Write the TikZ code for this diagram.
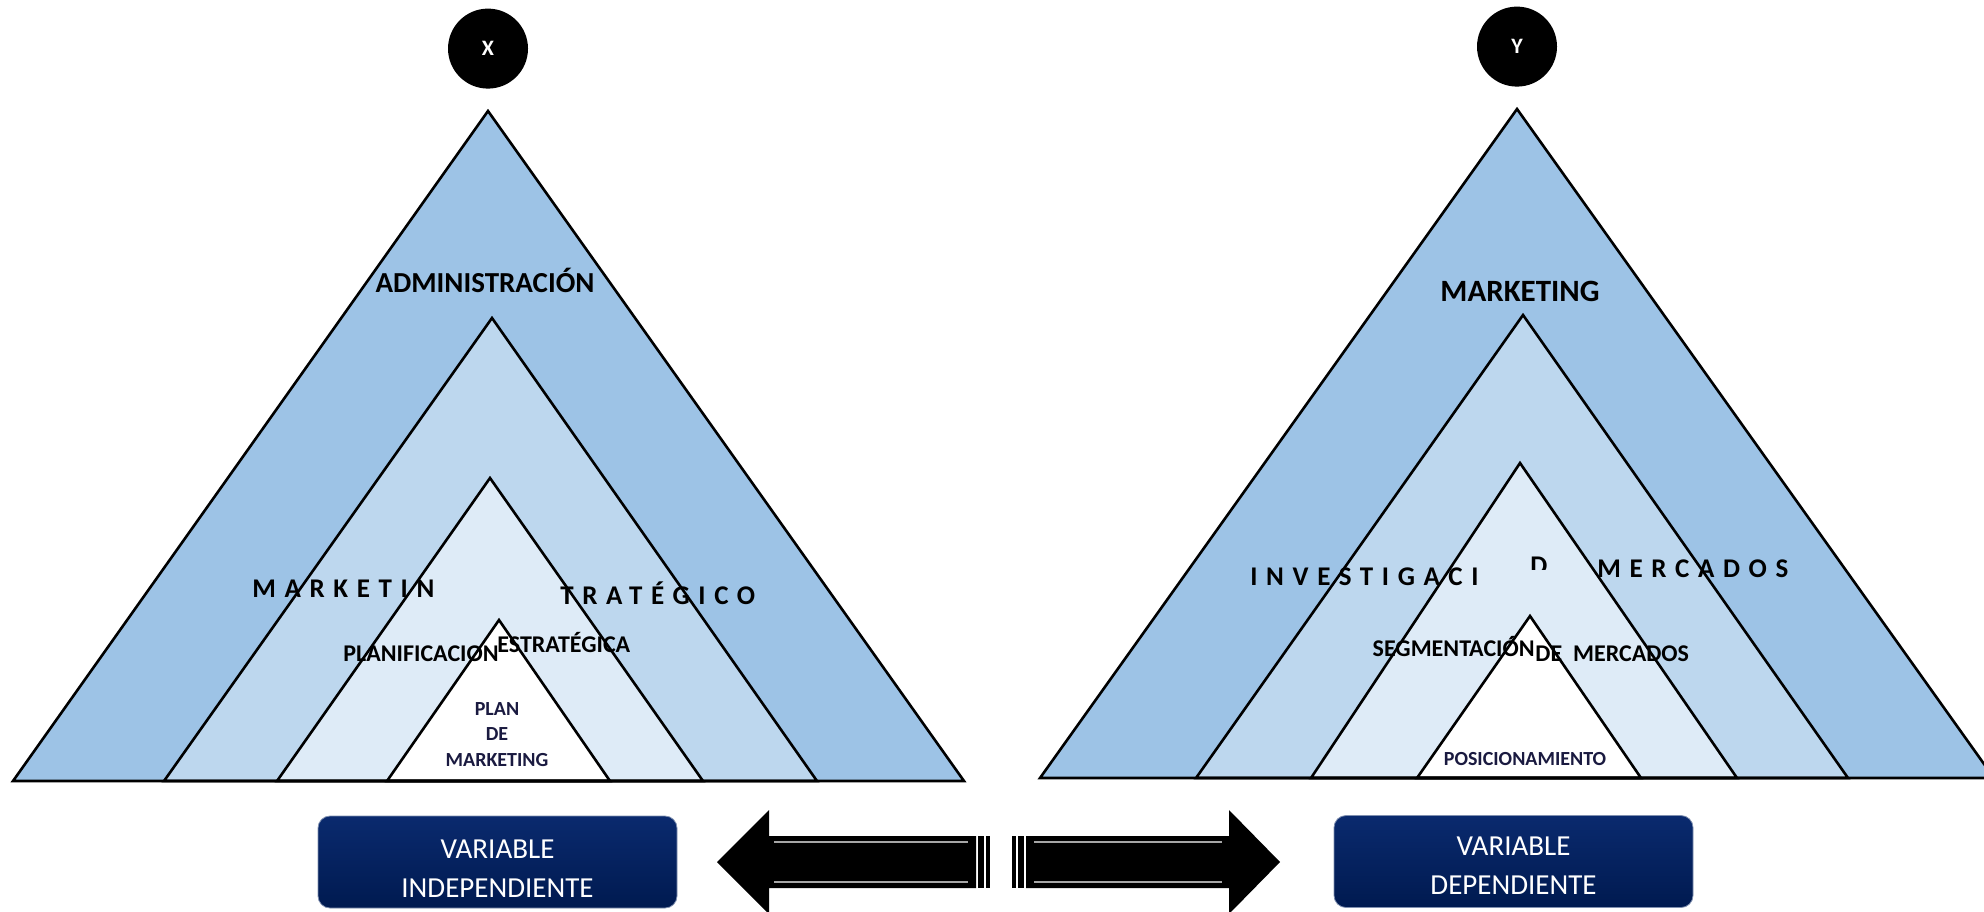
\documentclass[tikz,border=0pt]{standalone}
\usepackage{fontspec}
\setmainfont{Carlito}
\usepackage{tikz}
\usetikzlibrary{positioning}
\definecolor{nivelA}{HTML}{9DC3E6}
\definecolor{nivelB}{HTML}{BDD7EE}
\definecolor{nivelC}{HTML}{DEEBF7}
\definecolor{core}{HTML}{1A1A40}
\definecolor{boxtop}{HTML}{0A2A6E}
\definecolor{boxbot}{HTML}{001A50}
\definecolor{boxedge}{HTML}{8090B0}

\begin{document}
\begin{tikzpicture}[x=0.5pt,y=-0.5pt,
  edge/.style={draw=black,line width=1.3pt,line join=miter},
  badge/.style={circle,fill=black,text=white,font=\bfseries\fontsize{11}{13}\selectfont,minimum size=40pt,inner sep=0pt},
  head/.style={font=\bfseries\fontsize{14.5}{17}\selectfont,inner sep=0pt,anchor=base},
  spaced/.style={font=\bfseries\fontsize{13.5}{16}\selectfont\addfontfeature{LetterSpace=32},inner sep=0pt,anchor=base west},
  inner/.style={font=\bfseries\fontsize{12}{14}\selectfont,inner sep=0pt},
  core/.style={font=\bfseries\fontsize{10}{12.7}\selectfont,text=core,inner sep=0pt,align=center},
  varbox/.style={rounded corners=6pt,top color=boxtop,bottom color=boxbot,draw=boxedge,line width=0.4pt,minimum width=179.5pt,minimum height=46pt},
  vartext/.style={text=white,font=\fontsize{14.5}{19.5}\selectfont,align=center,inner sep=0pt},
  glint/.style={draw=gray!70,line width=1pt}]
\useasboundingbox (0,0) rectangle (1984,911);

\coordinate (L1-t) at (488,111); \coordinate (L1-l) at (13,781);   \coordinate (L1-r) at (964,781);
\coordinate (L2-t) at (492,318); \coordinate (L2-l) at (164,781);  \coordinate (L2-r) at (817,781);
\coordinate (L3-t) at (490,478); \coordinate (L3-l) at (277,781);  \coordinate (L3-r) at (703,781);
\coordinate (L4-t) at (499,620); \coordinate (L4-l) at (387,781);  \coordinate (L4-r) at (610,781);
\coordinate (R1-t) at (1517,109); \coordinate (R1-l) at (1040,778); \coordinate (R1-r) at (1994,778);
\coordinate (R2-t) at (1523,315); \coordinate (R2-l) at (1196,778); \coordinate (R2-r) at (1848,778);
\coordinate (R3-t) at (1520,463); \coordinate (R3-l) at (1311,778); \coordinate (R3-r) at (1737,778);
\coordinate (R4-t) at (1530,616); \coordinate (R4-l) at (1417,778); \coordinate (R4-r) at (1641,778);

\foreach \t/\c in {L1/nivelA,L2/nivelB,L3/nivelC,L4/white,R1/nivelA,R2/nivelB,R3/nivelC,R4/white}
  \fill[\c] (\t-t) -- (\t-l) -- (\t-r) -- cycle;

\node[badge,above=11pt of L1-t] (varx) {X};
\node[badge,above=11pt of R1-t] (vary) {Y};

% pyramid X
\node[head] (admin) at (485,292) {ADMINISTRACIÓN};
\node[spaced] (mktA) at (252,597) {MARKETIN};
\node[spaced] (mktB) at (560,604) {TRATÉGICO};
\node[inner,anchor=base east] (plan) at (499,661) {PLANIFICACION};
\node[inner,anchor=base west] (estr) at (497,652) {ESTRATÉGICA};
\node[core,anchor=base] (pmkt) at (497,766) {PLAN\\DE\\MARKETING};

% pyramid Y
\node[head,font=\bfseries\fontsize{15.5}{18}\selectfont] (mkt) at (1520,301) {MARKETING};
\node[spaced] (invA) at (1250,585) {INVESTIGACI};
\begin{scope}
  \clip (1520,552) rectangle (1565,569);
  \node[spaced] (invD) at (1530,574) {D};
\end{scope}
\node[spaced] (invB) at (1597,577) {MERCADOS};
\node[inner,anchor=base east] (segm) at (1535,656) {SEGMENTACIÓN};
\node[inner,anchor=base west] (segB) at (1535,661) {DE\ \ MERCADOS};
\node[core,anchor=base] (posi) at (1525,765) {POSICIONAMIENTO};

\foreach \t in {L1,L2,L3,L4,R1,R2,R3,R4}
  \draw[edge] (\t-t) -- (\t-l) -- (\t-r) -- cycle;

% variables
\node[varbox] (indep) at (497.5,862) {};
\node[vartext,anchor=base] (indepT) at (indep.center |- 0,897) {VARIABLE\\INDEPENDIENTE};
\node[varbox] (dep) at (1513.5,861.5) {};
\node[vartext,anchor=base] (depT) at (dep.center |- 0,894) {VARIABLE\\DEPENDIENTE};

% double arrow
\fill (717,862) -- (769,810) -- (769,836) -- (976,836) -- (976,888) -- (769,888) -- (769,914) -- cycle;
\fill (978,836) rectangle (984,888);
\fill (986,836) rectangle (990,888);
\fill (1012,836) rectangle (1016,888);
\fill (1018,836) rectangle (1024,888);
\fill (1026,836) -- (1229,836) -- (1229,810) -- (1280,862) -- (1229,914) -- (1229,888) -- (1026,888) -- cycle;
\draw[glint] (774,842) -- (968,842) (774,882) -- (968,882);
\draw[glint] (1034,842) -- (1222,842) (1034,882) -- (1222,882);
\end{tikzpicture}
\end{document}
